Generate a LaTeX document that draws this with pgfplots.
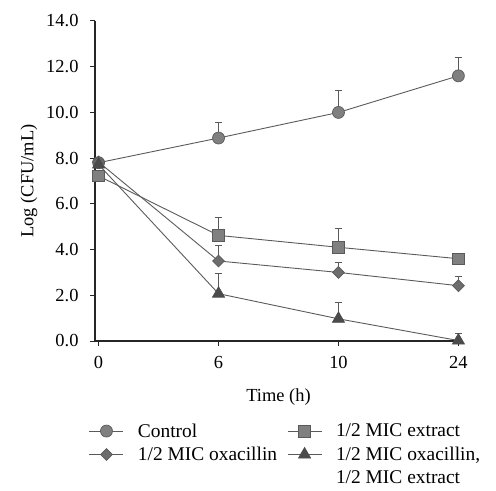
\documentclass[border=0pt]{standalone}
\usepackage{fontspec}
\setmainfont{Liberation Serif}
\usepackage{pgfplots}
\pgfplotsset{compat=1.18}
\definecolor{lineg}{RGB}{90,90,90}
\definecolor{fillg}{RGB}{128,128,128}
\definecolor{darkg}{RGB}{75,75,75}

\begin{document}
\begin{tikzpicture}
\useasboundingbox (-95bp,-150bp) rectangle (401bp,341bp);
\begin{axis}[
    at={(0,0)}, anchor=south west,
    scale only axis,
    width=367bp, height=320bp,
    xmin=-0.03, xmax=3.03,
    ymin=0, ymax=14,
    axis lines*=left,
    axis line style={line width=1.1pt, black!85},
    tick style={line width=1pt, black!85},
    tick align=outside,
    major tick length=5bp,
    xtick={0,1,2,3},
    xticklabels={0,6,10,24},
    ytick={0,2,...,14},
    /pgf/number format/.cd, fixed, zerofill, precision=1, assume math mode=true,
    /pgfplots/.cd,
    ticklabel style={font=\fontsize{18.5}{20}\selectfont},
    xticklabel style={yshift=-7bp},
    yticklabel style={xshift=-8bp},
    label style={font=\fontsize{18.5}{21}\selectfont},
    xlabel={Time (h)},
    ylabel={Log (CFU/mL)},
    xlabel style={yshift=-13bp},
    ylabel style={yshift=2bp},
    clip=false,
    error bars/error bar style={line width=1pt, lineg},
    error bars/error mark options={rotate=90, mark size=3.5bp, line width=1pt, lineg},
    legend columns=2,
    legend cell align=left,
    legend style={draw=none, at={(-0.025,-0.245)}, anchor=north west,
        font=\fontsize{19.5}{22}\selectfont,
        row sep=4.5bp,
        /tikz/every odd column/.append style={column sep=12bp},
        /tikz/every even column/.append style={column sep=8bp}},
    legend image code/.code={%
        \draw[mark repeat=2,mark phase=2,#1] plot coordinates {(0cm,0cm) (0.6cm,0cm) (1.2cm,0cm)};},
]

% Control
\addplot[lineg, line width=0.9pt, mark=*, mark size=6bp,
    mark options={fill=fillg, draw=lineg, line width=0.7pt},
    error bars/.cd, y dir=plus, y explicit]
    coordinates {(0,7.8) +- (0,0.1) (1,8.88) +- (0,0.7) (2,10.0) +- (0,0.94) (3,11.6) +- (0,0.8)};

% 1/2 MIC extract
\addplot[lineg, line width=0.9pt, mark=square*, mark size=5.8bp,
    mark options={fill=fillg, draw=lineg, line width=0.7pt},
    error bars/.cd, y dir=plus, y explicit]
    coordinates {(0,7.22) +- (0,0.1) (1,4.62) +- (0,0.8) (2,4.1) +- (0,0.84) (3,3.6) +- (0,0.05)};

% 1/2 MIC oxacillin (diamond = rotated square)
\addplot[lineg, line width=0.9pt, mark=square*, mark size=4.2bp,
    mark options={rotate=45, fill=fillg!85!black, draw=lineg, line width=0.7pt},
    error bars/.cd, y dir=plus, y explicit]
    coordinates {(0,7.83) +- (0,0.1) (1,3.5) +- (0,0.7) (2,3.0) +- (0,0.45) (3,2.42) +- (0,0.4)};

% 1/2 MIC oxacillin + 1/2 MIC extract
\addplot[lineg, line width=0.9pt, mark=triangle*, mark size=7bp,
    mark options={fill=darkg, draw=darkg, line width=0.7pt},
    error bars/.cd, y dir=plus, y explicit]
    coordinates {(0,7.72) +- (0,0.1) (1,2.07) +- (0,0.9) (2,0.97) +- (0,0.73) (3,0.02) +- (0,0.3)};

\addlegendimage{empty legend}
\addlegendimage{empty legend}

\legend{Control, 1/2 MIC extract, 1/2 MIC oxacillin, {1/2 MIC oxacillin,}, {\mbox{}}, 1/2 MIC extract}
\end{axis}
\end{tikzpicture}
\end{document}
